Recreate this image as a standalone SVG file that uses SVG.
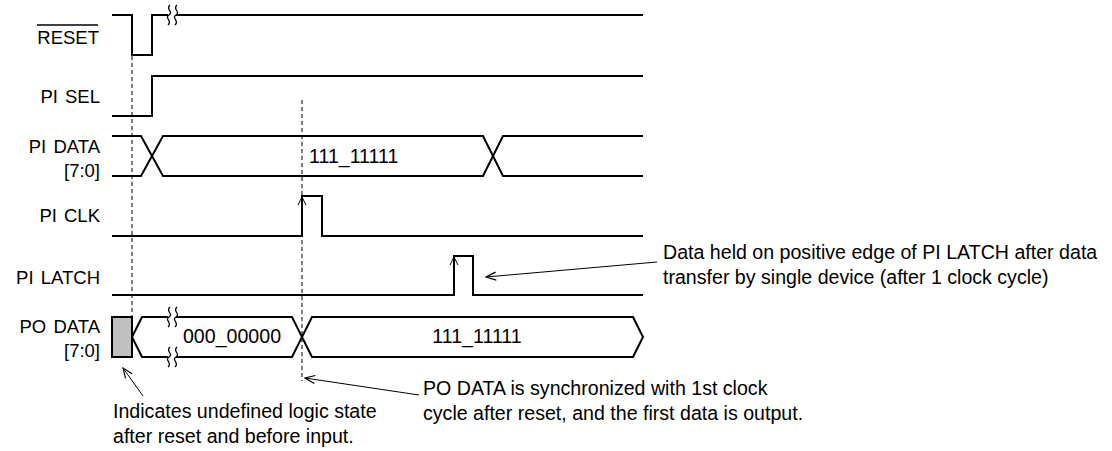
<svg xmlns="http://www.w3.org/2000/svg" width="1112" height="451" viewBox="0 0 1112 451">
<style>
.sig{fill:none;stroke:#000;stroke-width:2;stroke-linejoin:miter}
.brk{fill:none;stroke:#000;stroke-width:1.3}
.dash{fill:none;stroke:#000;stroke-width:1;stroke-dasharray:4,3}
.lead{fill:none;stroke:#000;stroke-width:1}
.lbl{font-family:"Liberation Sans",Arial,sans-serif;font-size:18.5px;fill:#000;text-anchor:end;word-spacing:2px}
.txt{font-family:"Liberation Sans",Arial,sans-serif;font-size:19.6px;fill:#000}
</style>
<defs>
<marker id="arr" markerUnits="userSpaceOnUse" markerWidth="12" markerHeight="10" refX="11" refY="5" orient="auto">
<path d="M1,1 L11,5 L1,9" fill="none" stroke="#000" stroke-width="1.2"/>
</marker>
</defs>
<rect width="1112" height="451" fill="#fff"/>

<g id="reset">
<text class="lbl" x="99" y="44">RESET</text>
<line x1="37" y1="25" x2="98" y2="25" stroke="#000" stroke-width="1.3"/>
<path class="sig" d="M112,15 H132 V55 H152 V15 H168"/>
<path class="sig" d="M176,15 H643"/>
<path class="brk" d="M170,5 C165,9 174,12 169,15 C164,18 173,21 168,25"/>
<path class="brk" d="M177,5 C172,9 181,12 176,15 C171,18 180,21 175,25"/>
</g>

<g id="pi-sel">
<text class="lbl" x="100" y="103">PI SEL</text>
<path class="sig" d="M112,116 H152 V76 H643"/>
</g>

<g id="pi-data">
<text class="lbl" x="100" y="153">PI DATA</text>
<text class="lbl" x="100" y="177">[7:0]</text>
<path class="sig" d="M112,136 H141 L163,176 H483 L503,136 H643"/>
<path class="sig" d="M112,176 H141 L163,136 H483 L503,176 H643"/>
<text class="txt" x="309" y="163">111_11111</text>
</g>

<g id="pi-clk">
<text class="lbl" x="100" y="222">PI CLK</text>
<path class="sig" d="M112,236 H302 V196 H322 V236 H643"/>
<path class="lead" d="M298,205 L302,197 L306,205"/>
</g>

<g id="pi-latch">
<text class="lbl" x="100" y="284">PI LATCH</text>
<path class="sig" d="M112,295 H454 V256 H473 V295 H643"/>
<path class="lead" d="M450,265 L454,257 L458,265"/>
</g>

<g id="po-data">
<text class="lbl" x="100" y="333">PO DATA</text>
<text class="lbl" x="100" y="357">[7:0]</text>
<rect x="112" y="317" width="20" height="40" fill="#c0c0c0" stroke="#000" stroke-width="2"/>
<path class="sig" d="M168,317 H142 L132,337 L142,357 H168"/>
<path class="sig" d="M176,317 H292 L312,357 H633 L643,337 L633,317 H312 L292,357 H176"/>
<path class="brk" d="M170,307 C165,311 174,314 169,317 C164,320 173,323 168,327"/>
<path class="brk" d="M177,307 C172,311 181,314 176,317 C171,320 180,323 175,327"/>
<path class="brk" d="M170,347 C165,351 174,354 169,357 C164,360 173,363 168,367"/>
<path class="brk" d="M177,347 C172,351 181,354 176,357 C171,360 180,363 175,367"/>
<text class="txt" x="232" y="343" text-anchor="middle">000_00000</text>
<text class="txt" x="477" y="343" text-anchor="middle">111_11111</text>
</g>

<g id="connectors">
<line class="dash" x1="132" y1="56" x2="132" y2="317"/>
<line class="dash" x1="302" y1="100" x2="302" y2="381"/>
<path class="lead" d="M657,262 L486,277" marker-end="url(#arr)"/>
<path class="lead" d="M419,395 L305,378" marker-end="url(#arr)"/>
<path class="lead" d="M143,396 L123,368" marker-end="url(#arr)"/>
</g>

<g id="notes">
<text class="txt" x="663" y="259">Data held on positive edge of PI LATCH after data</text>
<text class="txt" x="663" y="284">transfer by single device (after 1 clock cycle)</text>
<text class="txt" x="423" y="395">PO DATA is synchronized with 1st clock</text>
<text class="txt" x="423" y="420">cycle after reset, and the first data is output.</text>
<text class="txt" x="113" y="418">Indicates undefined logic state</text>
<text class="txt" x="113" y="443">after reset and before input.</text>
</g>
</svg>
